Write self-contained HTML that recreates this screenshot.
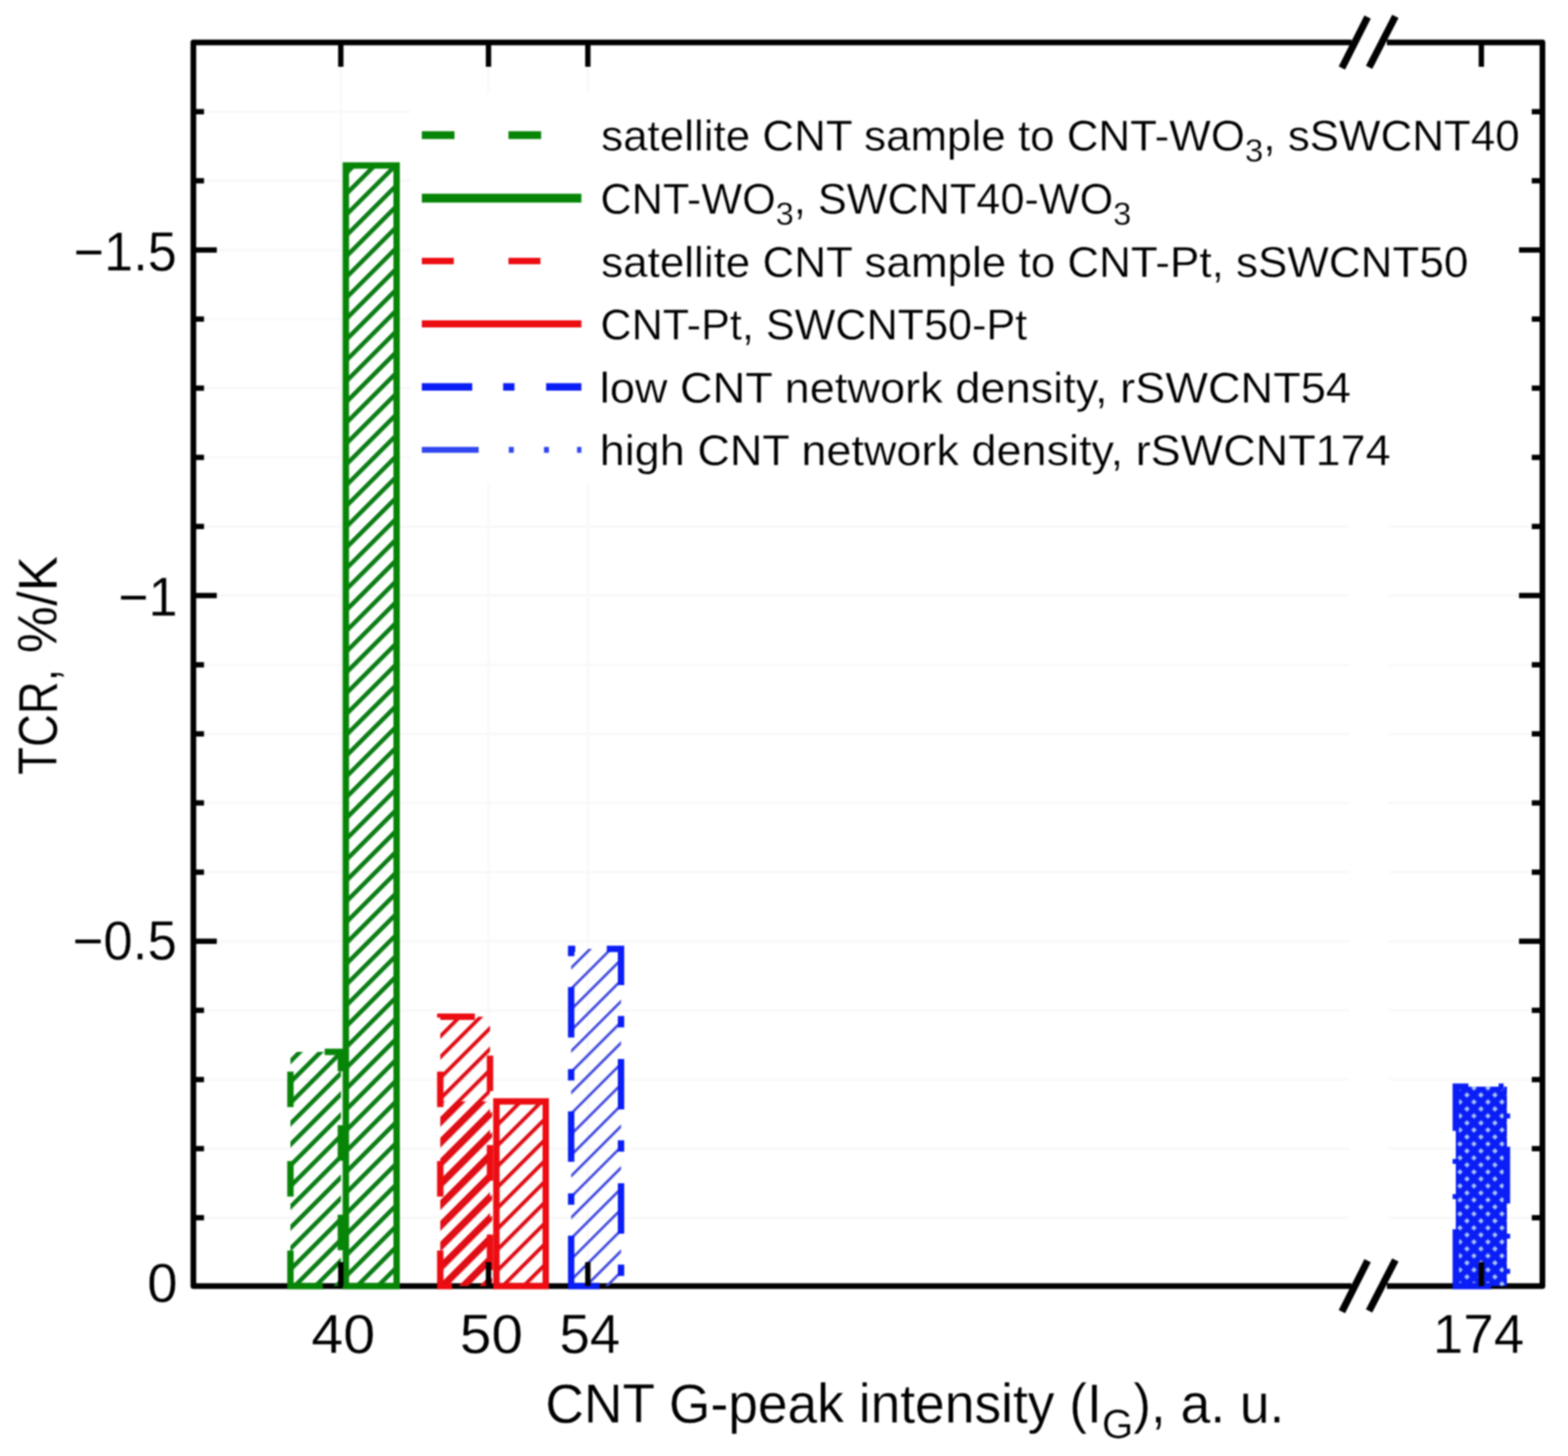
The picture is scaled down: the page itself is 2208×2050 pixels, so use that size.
<!DOCTYPE html>
<html><head><meta charset="utf-8"><title>TCR vs CNT G-peak intensity</title>
<style>
html,body{margin:0;padding:0;background:#fff;}
svg{display:block;}
#wrap{filter:blur(0.8px);width:2208px;height:2050px;}
text{font-family:'Liberation Sans', Arial, sans-serif;fill:#000;stroke:#fff;stroke-width:0.4px;}
</style></head><body>
<div id="wrap"><svg width="2208" height="2050" viewBox="0 0 2208 2050">
<rect x="0" y="0" width="2208" height="2050" fill="#fff"/>

<defs>
<pattern id="hg" patternUnits="userSpaceOnUse" width="20.7182" height="20.7182" patternTransform="rotate(45) translate(16.840 0)"><rect x="0" y="0" width="6.2" height="20.7182" fill="#0a7d14"/></pattern>
<pattern id="hr" patternUnits="userSpaceOnUse" width="20.7182" height="20.7182" patternTransform="rotate(45) translate(17.290 0)"><rect x="0" y="0" width="5.3" height="20.7182" fill="#e00c14"/></pattern>
<pattern id="hr2" patternUnits="userSpaceOnUse" width="20.7182" height="20.7182" patternTransform="rotate(45) translate(1.168 0)"><rect x="0" y="0" width="5.3" height="20.7182" fill="#e00c14"/></pattern>
<pattern id="hb" patternUnits="userSpaceOnUse" width="20.7182" height="20.7182" patternTransform="rotate(45) translate(18.140 0)"><rect x="0" y="0" width="3.6" height="20.7182" fill="#3c46e0"/></pattern>
<pattern id="hx" patternUnits="userSpaceOnUse" width="19.7" height="19.7" patternTransform="translate(2046 1522)"><rect width="19.7" height="19.7" fill="#0a1ef5"/><rect x="7.05" y="7.05" width="5.6" height="5.6" fill="#a9c3ff" transform="rotate(45 9.85 9.85)"/><rect x="-2.80" y="-2.80" width="5.6" height="5.6" fill="#a9c3ff" transform="rotate(45 0 0)"/><rect x="16.90" y="-2.80" width="5.6" height="5.6" fill="#a9c3ff" transform="rotate(45 19.7 0)"/><rect x="-2.80" y="16.90" width="5.6" height="5.6" fill="#a9c3ff" transform="rotate(45 0 19.7)"/><rect x="16.90" y="16.90" width="5.6" height="5.6" fill="#a9c3ff" transform="rotate(45 19.7 19.7)"/></pattern>
</defs>
<path d="M272.3 1714.6H1900 M1956 1714.6H2172.0 M272.3 1617.2H1900 M1956 1617.2H2172.0 M272.3 1519.9H1900 M1956 1519.9H2172.0 M272.3 1422.6H1900 M1956 1422.6H2172.0 M272.3 1325.2H1900 M1956 1325.2H2172.0 M272.3 1227.9H1900 M1956 1227.9H2172.0 M272.3 1130.6H1900 M1956 1130.6H2172.0 M272.3 1033.3H1900 M1956 1033.3H2172.0 M272.3 935.9H1900 M1956 935.9H2172.0 M272.3 838.6H1900 M1956 838.6H2172.0 M272.3 741.3H1900 M1956 741.3H2172.0 M272.3 643.9H1900 M1956 643.9H2172.0 M272.3 546.6H1900 M1956 546.6H2172.0 M272.3 449.3H1900 M1956 449.3H2172.0 M272.3 352.0H1900 M1956 352.0H2172.0 M272.3 254.6H1900 M1956 254.6H2172.0 M272.3 157.3H1900 M1956 157.3H2172.0 M479.9 59.8V1810.8 M687.9 59.8V1810.8 M827.8 59.8V1810.8" stroke="#f8f8f8" stroke-width="3" fill="none"/>
<rect x="578" y="132" width="1575" height="549" fill="#fff"/>
<path d="M1903 1810.8H272.3V59.8H1903 M1953 59.8H2172.0V1810.8H1953" stroke="#000" stroke-width="8.0" fill="none" stroke-linejoin="round"/>
<rect x="409.0" y="1481.0" width="71.0" height="329.8" fill="url(#hg)"/>
<rect x="487.0" y="233.0" width="71.5" height="1577.8" fill="url(#hg)"/>
<rect x="620.0" y="1431.5" width="70.0" height="379.3" fill="url(#hr)"/>
<rect x="699.0" y="1550.7" width="69.5" height="260.1" fill="url(#hr)"/>
<rect x="804.3" y="1336.0" width="70.2" height="474.8" fill="url(#hb)"/>
<rect x="620" y="1550.7" width="73" height="260.1" fill="url(#hr2)"/>
<path d="M409.0 1810.8V1481.0H480.0V1810.8Z" fill="none" stroke="#078507" stroke-width="9.0" stroke-dasharray="50 76"/>
<path d="M487.0 1810.8V233.0H558.5V1810.8Z" fill="none" stroke="#078507" stroke-width="9.0"/>
<path d="M620.0 1810.8V1431.5H690.0V1810.8Z" fill="none" stroke="#ec0c12" stroke-width="9.0" stroke-dasharray="50 76"/>
<path d="M699.0 1810.8V1550.7H768.5V1810.8Z" fill="none" stroke="#ec0c12" stroke-width="9.0"/>
<path d="M804.3 1810.8V1336.0H874.5V1810.8Z" fill="none" stroke="#0a1ef5" stroke-width="9.0" stroke-dasharray="71 43.5 16 44.5"/>
<rect x="2050.0" y="1530.0" width="72.0" height="280.8" fill="url(#hx)"/>
<path d="M2050.0 1810.8V1530.0H2122.0V1810.8Z" fill="none" stroke="#0a1ef5" stroke-width="9.0" stroke-dasharray="80 42.5 7 42.5 7 39.6"/>
<path d="M272.3 1714.6h15 M2172.0 1714.6h-15 M272.3 1617.2h15 M2172.0 1617.2h-15 M272.3 1519.9h15 M2172.0 1519.9h-15 M272.3 1422.6h15 M2172.0 1422.6h-15 M272.3 1325.2h33 M2172.0 1325.2h-33 M272.3 1227.9h15 M2172.0 1227.9h-15 M272.3 1130.6h15 M2172.0 1130.6h-15 M272.3 1033.3h15 M2172.0 1033.3h-15 M272.3 935.9h15 M2172.0 935.9h-15 M272.3 838.6h33 M2172.0 838.6h-33 M272.3 741.3h15 M2172.0 741.3h-15 M272.3 643.9h15 M2172.0 643.9h-15 M272.3 546.6h15 M2172.0 546.6h-15 M272.3 449.3h15 M2172.0 449.3h-15 M272.3 352.0h33 M2172.0 352.0h-33 M272.3 254.6h15 M2172.0 254.6h-15 M272.3 157.3h15 M2172.0 157.3h-15 M479.9 59.8V94 M479.9 1810.8V1777 M687.9 59.8V94 M687.9 1810.8V1777 M827.8 59.8V94 M827.8 1810.8V1777 M2086.0 59.8V94 M2086.0 1810.8V1777" stroke="#000" stroke-width="7.5" fill="none"/>
<path d="M1889.6 95.8L1925.8 24.1 M1927.9 94.8L1964.9 23.0 M1889.6 1846.8L1925.8 1775.1 M1927.9 1845.8L1964.9 1774.0" stroke="#000" stroke-width="10" fill="none"/>
<text x="249" y="380.5" font-size="77" text-anchor="end" textLength="145.5" lengthAdjust="spacingAndGlyphs">−1.5</text>
<text x="250" y="866.5" font-size="77" text-anchor="end" textLength="83.4" lengthAdjust="spacingAndGlyphs">−1</text>
<text x="249" y="1350.5" font-size="77" text-anchor="end" textLength="146.8" lengthAdjust="spacingAndGlyphs">−0.5</text>
<text x="250" y="1833" font-size="77" text-anchor="end">0</text>
<text x="483.3" y="1905" font-size="77" text-anchor="middle" textLength="90.2" lengthAdjust="spacingAndGlyphs">40</text>
<text x="691.9" y="1905" font-size="77" text-anchor="middle" textLength="88.7" lengthAdjust="spacingAndGlyphs">50</text>
<text x="830.6" y="1905" font-size="77" text-anchor="middle">54</text>
<text x="2082" y="1905" font-size="77" text-anchor="middle">174</text>
<text x="768" y="2002.5" font-size="77" text-anchor="start" textLength="1040.7" lengthAdjust="spacingAndGlyphs">CNT G-peak intensity (I<tspan font-size="58" dy="22">G</tspan><tspan dy="-22">), a. u.</tspan></text>
<text font-size="77" transform="translate(80.4 1091) rotate(-90)" textLength="149.5" lengthAdjust="spacingAndGlyphs">TCR,</text>
<text font-size="77" transform="translate(80.4 919.7) rotate(-90)" textLength="136.9" lengthAdjust="spacingAndGlyphs">%/K</text>
<path d="M594 190.3H818.7" stroke="#078507" stroke-width="11" stroke-dasharray="46 76"/>
<text x="846.5" y="212.4" font-size="61" text-anchor="start" textLength="1293.5" lengthAdjust="spacingAndGlyphs">satellite CNT sample to CNT-WO<tspan font-size="46" dy="16">3</tspan><tspan dy="-16">, sSWCNT40</tspan></text>
<path d="M594 278.9H818.7" stroke="#078507" stroke-width="12.5"/>
<text x="845.5" y="301.0" font-size="61" text-anchor="start" textLength="747.6" lengthAdjust="spacingAndGlyphs">CNT-WO<tspan font-size="46" dy="16">3</tspan><tspan dy="-16">, SWCNT40-WO</tspan><tspan font-size="46" dy="16">3</tspan></text>
<path d="M594 367.5H818.7" stroke="#ec0c12" stroke-width="9" stroke-dasharray="45 77"/>
<text x="846.5" y="389.6" font-size="61" text-anchor="start" textLength="1221.1" lengthAdjust="spacingAndGlyphs">satellite CNT sample to CNT-Pt, sSWCNT50</text>
<path d="M594 456.1H818.7" stroke="#ec0c12" stroke-width="10"/>
<text x="845.5" y="478.2" font-size="61" text-anchor="start" textLength="601.0" lengthAdjust="spacingAndGlyphs">CNT-Pt, SWCNT50-Pt</text>
<path d="M594 544.7H818.7" stroke="#0a1ef5" stroke-width="10.5" stroke-dasharray="71 43.5 16 44.5"/>
<text x="844.5" y="566.8" font-size="61" text-anchor="start" textLength="1057.9" lengthAdjust="spacingAndGlyphs">low CNT network density, rSWCNT54</text>
<path d="M594 633.3H818.7" stroke="#2f45f0" stroke-width="8.2" stroke-dasharray="80 42.5 7 42.5 7 39.6"/>
<text x="844.5" y="655.4" font-size="61" text-anchor="start" textLength="1113.8" lengthAdjust="spacingAndGlyphs">high CNT network density, rSWCNT174</text>
</svg></div>
</body></html>
